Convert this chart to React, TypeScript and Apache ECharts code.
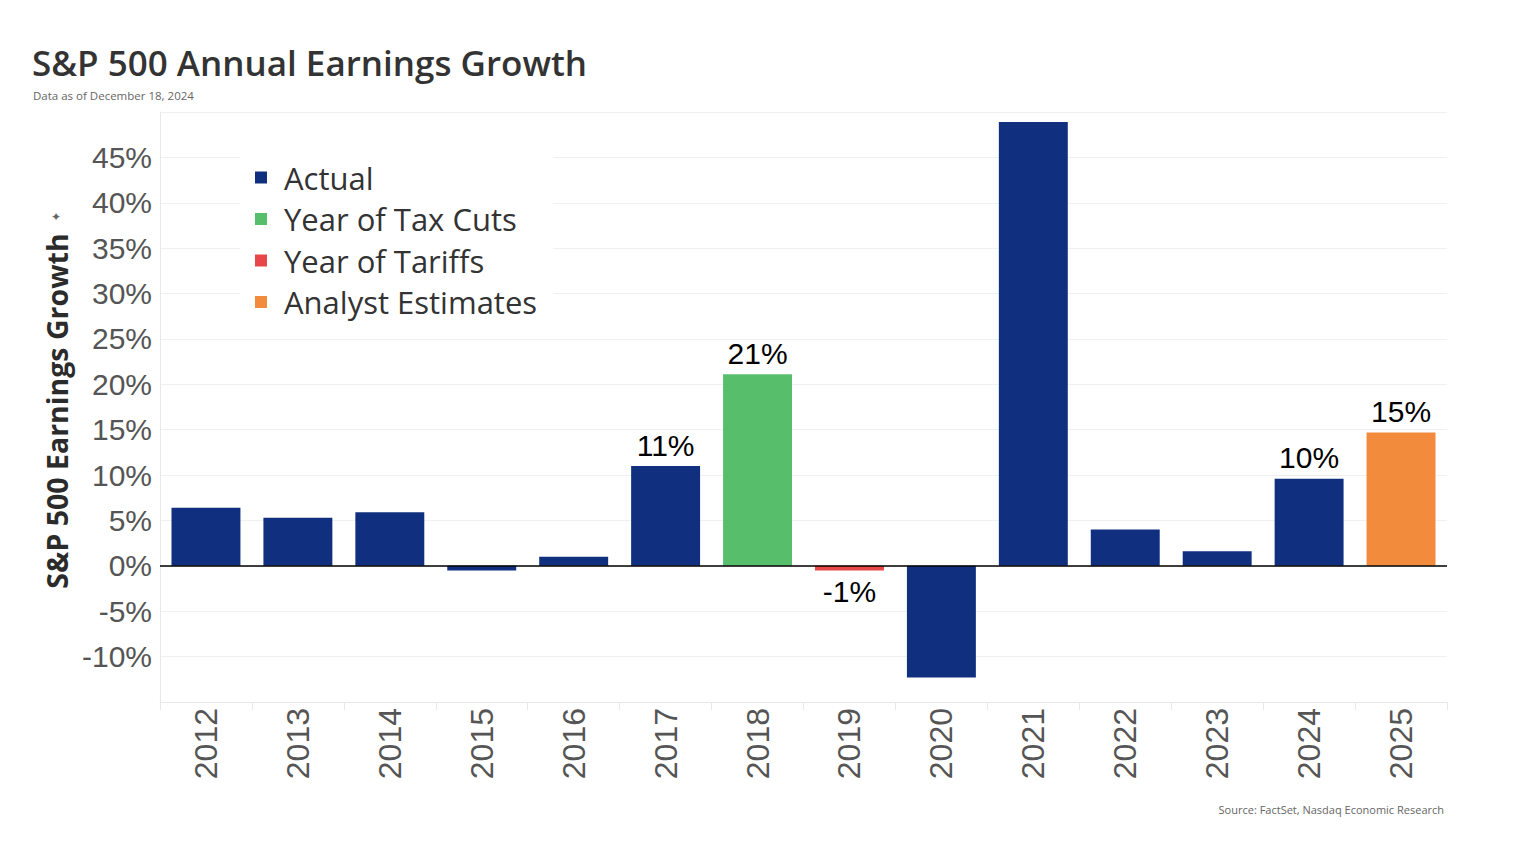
import React, { useEffect, useRef } from "react";
import * as echarts from "echarts";

const years = ["2012", "2013", "2014", "2015", "2016", "2017", "2018", "2019", "2020", "2021", "2022", "2023", "2024", "2025"];
const growth = [6.4, 5.3, 5.9, -0.5, 1.0, 11.0, 21.1, -0.5, -12.3, 48.9, 4.0, 1.6, 9.6, 14.7];
const groups = ["Actual", "Actual", "Actual", "Actual", "Actual", "Actual", "Year of Tax Cuts", "Year of Tariffs", "Actual", "Actual", "Actual", "Actual", "Actual", "Analyst Estimates"];
const labelText = ["", "", "", "", "", "11%", "21%", "-1%", "", "", "", "", "10%", "15%"];
const seriesNames = ["Actual", "Year of Tax Cuts", "Year of Tariffs", "Analyst Estimates"];
const seriesColors = ["#10307F", "#57BF6C", "#E8474A", "#F28B3C"];
const yTicks = { min: -15, max: 50, interval: 5 };

const ARIAL = "Liberation Sans, Arial, sans-serif";
const SANS = "Open Sans, Noto Sans, sans-serif";

export default function App() {
  const ref = useRef<HTMLDivElement>(null);
  useEffect(() => {
    if (!ref.current) return;
    const chart = echarts.init(ref.current, undefined, { renderer: "svg" });
    const series: any[] = seriesNames.map((name, si) => ({
      name,
      type: "bar",
      stack: "all",
      barCategoryGap: "25%",
      itemStyle: { color: seriesColors[si] },
      data: years.map((_, i) => {
        if (groups[i] !== name) return null;
        const v = growth[i];
        if (!labelText[i]) return v;
        return {
          value: v,
          label: {
            show: true,
            position: v < 0 ? "bottom" : "top",
            distance: 6,
            formatter: labelText[i],
            color: "#000",
            fontSize: 30,
            fontFamily: ARIAL,
          },
        };
      }),
    }));
    series[0].markLine = {
      silent: true,
      symbol: "none",
      label: { show: false },
      lineStyle: { color: "#000", width: 1.5, type: "solid" },
      data: [{ yAxis: 0 }],
    };
    chart.setOption({
      animation: false,
      backgroundColor: "#fff",
      title: [
        {
          text: "S&P 500 Annual Earnings Growth",
          left: 32,
          top: 45,
          padding: 0,
          textStyle: { fontSize: 35, fontWeight: 600, color: "#333", fontFamily: SANS },
        },
        {
          text: "Data as of December 18, 2024",
          left: 33,
          top: 89,
          padding: 0,
          textStyle: { fontSize: 11.5, fontWeight: "normal", color: "#666", fontFamily: SANS },
        },
        {
          text: "Source: FactSet, Nasdaq Economic Research",
          right: 82,
          top: 804,
          padding: 0,
          textStyle: { fontSize: 11, fontWeight: "normal", color: "#666", fontFamily: SANS },
        },
      ],
      legend: {
        orient: "vertical",
        left: 240,
        top: 150,
        padding: [12, 16, 10, 15],
        backgroundColor: "#fff",
        icon: "rect",
        itemWidth: 12,
        itemHeight: 12,
        itemGap: 10.5,
        textStyle: { fontSize: 31, color: "#333", fontFamily: SANS, padding: [0, 0, 0, 12] },
        data: seriesNames,
      },
      grid: { left: 160, right: 79, top: 112, bottom: 154, containLabel: false },
      xAxis: {
        type: "category",
        data: years,
        axisLine: { onZero: false, lineStyle: { color: "#e8e8e8" } },
        axisTick: { show: true, length: 8, lineStyle: { color: "#e8e8e8" } },
        axisLabel: {
          rotate: 90,
          fontSize: 32,
          color: "#555",
          margin: 6,
          fontFamily: ARIAL,
        },
      },
      yAxis: {
        type: "value",
        min: yTicks.min,
        max: yTicks.max,
        interval: yTicks.interval,
        axisLine: { show: true, lineStyle: { color: "#e8e8e8" } },
        axisTick: { show: false },
        splitLine: { lineStyle: { color: "#f0f0f0" } },
        axisLabel: {
          fontSize: 30,
          color: "#555",
          margin: 8,
          fontFamily: ARIAL,
          formatter: (v: number) => (v === yTicks.min || v === yTicks.max ? "" : `${v}%`),
        },
      },
      graphic: [
        {
          type: "text",
          x: 57,
          y: 411,
          rotation: Math.PI / 2,
          style: {
            text: "S&P 500 Earnings Growth",
            fontSize: 28.5,
            fontWeight: "bold",
            fill: "#2b2b2b",
            align: "center",
            verticalAlign: "middle",
            fontFamily: SANS,
          },
        },
        {
          type: "text",
          x: 56,
          y: 217,
          style: { text: "✦", fontSize: 12, fill: "#666", align: "center", verticalAlign: "middle" },
        },
      ],
      series,
    });
    return () => chart.dispose();
  }, []);
  return <div ref={ref} style={{ position: "absolute", left: 0, top: 0, width: 1526, height: 856 }} />;
}
